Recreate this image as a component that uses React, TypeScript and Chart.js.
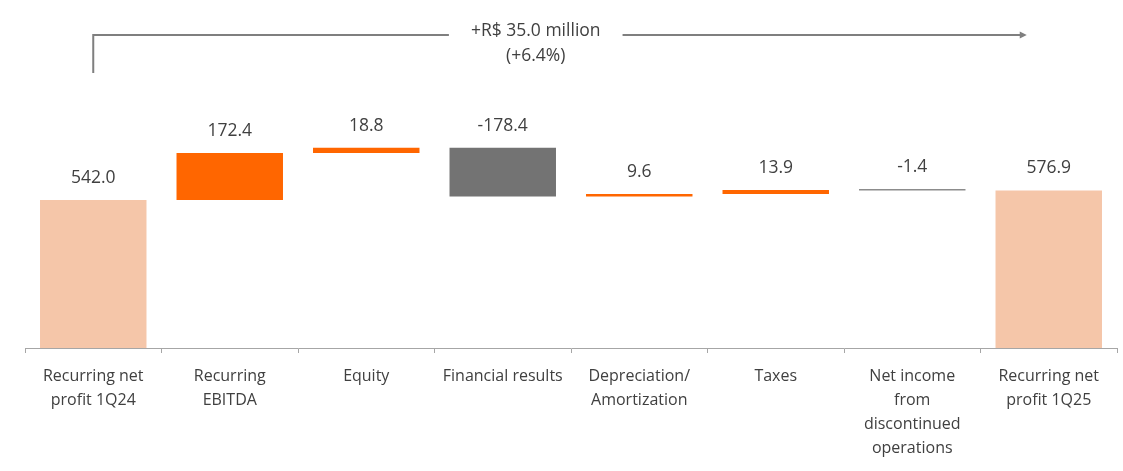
import React, { useEffect, useRef } from "react";
import { Chart, registerables } from "chart.js";

Chart.register(...registerables);

const categories: string[][] = [
  ["Recurring net", "profit 1Q24"],
  ["Recurring", "EBITDA"],
  ["Equity"],
  ["Financial results"],
  ["Depreciation/", "Amortization"],
  ["Taxes"],
  ["Net income", "from", "discontinued", "operations"],
  ["Recurring net", "profit 1Q25"],
];
const values: number[] = [542.0, 172.4, 18.8, -178.4, 9.6, 13.9, -1.4, 576.9];
const isTotal: boolean[] = [true, false, false, false, false, false, false, true];
const changeText = "+R$ 35.0 million";
const changePct = "(+6.4%)";

const FONT = "'Open Sans', 'Noto Sans', sans-serif";
const TEXT = "#404040";

function buildRanges(): [number, number][] {
  const out: [number, number][] = [];
  let run = 0;
  values.forEach((v, i) => {
    if (isTotal[i]) {
      out.push([0, v]);
      run = v;
    } else {
      const next = run + v;
      out.push([Math.min(run, next), Math.max(run, next)]);
      run = next;
    }
  });
  return out;
}

export default function App() {
  const ref = useRef<HTMLCanvasElement | null>(null);
  useEffect(() => {
    document.body.style.margin = "0";
    const ranges = buildRanges();
    const colors = values.map((v, i) =>
      isTotal[i] ? "#F5C6A9" : v >= 0 ? "#FF6600" : i === 6 ? "#8C8C8C" : "#737373"
    );

    const labelPlugin = {
      id: "wfLabels",
      afterDatasetsDraw(chart: any) {
        const ctx = chart.ctx;
        const meta = chart.getDatasetMeta(0);
        ctx.save();
        ctx.fillStyle = TEXT;
        ctx.font = `17.5px ${FONT}`;
        ctx.textAlign = "center";
        ctx.textBaseline = "middle";
        meta.data.forEach((bar: any, i: number) => {
          const top = Math.min(bar.y, bar.base);
          ctx.fillText(values[i].toFixed(1), bar.x, top - 22);
        });
        ctx.restore();
      },
    };

    const bracketPlugin = {
      id: "bracket",
      afterDraw(chart: any) {
        const ctx = chart.ctx;
        const meta = chart.getDatasetMeta(0);
        const x0 = meta.data[0].x;
        const x1 = meta.data[meta.data.length - 1].x - 22;
        const top = chart.chartArea.top;
        const yLine = top - 40;
        const yLow = top - 2;
        const tx = x0 + 0.474 * (x1 - x0);
        ctx.save();
        ctx.font = `17.5px ${FONT}`;
        const w = ctx.measureText(changeText).width;
        ctx.strokeStyle = "#7F7F7F";
        ctx.lineWidth = 2;
        ctx.beginPath();
        ctx.moveTo(x0, yLow);
        ctx.lineTo(x0, yLine);
        ctx.lineTo(tx - w / 2 - 22, yLine);
        ctx.moveTo(tx + w / 2 + 22, yLine);
        ctx.lineTo(x1 - 6, yLine);
        ctx.stroke();
        ctx.fillStyle = "#7F7F7F";
        ctx.beginPath();
        ctx.moveTo(x1, yLine);
        ctx.lineTo(x1 - 7, yLine - 3.5);
        ctx.lineTo(x1 - 7, yLine + 3.5);
        ctx.closePath();
        ctx.fill();
        ctx.fillStyle = TEXT;
        ctx.textAlign = "center";
        ctx.textBaseline = "middle";
        ctx.fillText(changeText, tx, yLine - 4);
        ctx.fillText(changePct, tx, yLine + 21);
        ctx.restore();
      },
    };

    const chart = new Chart(ref.current as HTMLCanvasElement, {
      type: "bar",
      data: {
        labels: categories as any,
        datasets: [
          {
            data: ranges as any,
            backgroundColor: colors,
            borderWidth: 0,
            categoryPercentage: 1,
            barPercentage: 0.78,
            minBarLength: 1.5,
          },
        ],
      },
      options: {
        animation: false,
        responsive: false,
        maintainAspectRatio: false,
        layout: { padding: { top: 75, left: 25, right: 6, bottom: 0 } },
        plugins: { legend: { display: false }, tooltip: { enabled: false } },
        scales: {
          y: { display: false, min: 0, max: 1000 },
          x: {
            afterFit: (scale: any) => {
              scale.height = 123;
            },
            border: { display: true, color: "#A6A6A6", width: 1 },
            grid: {
              offset: true,
              drawOnChartArea: false,
              drawTicks: true,
              tickLength: 5,
              color: "#A6A6A6",
            },
            ticks: {
              color: TEXT,
              font: { family: FONT, size: 16, lineHeight: 1.5 },
              padding: 11,
              maxRotation: 0,
              autoSkip: false,
            },
          },
        },
      },
      plugins: [labelPlugin, bracketPlugin],
    });
    return () => chart.destroy();
  }, []);
  return <canvas ref={ref} width={1123} height={471} style={{ display: "block" }} />;
}
